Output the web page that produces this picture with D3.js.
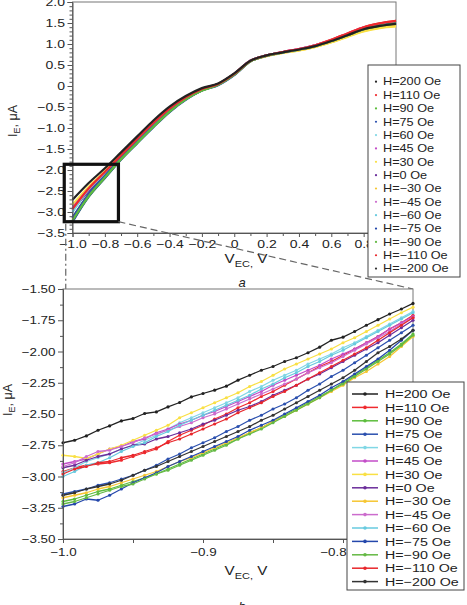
<!DOCTYPE html>
<html><head><meta charset="utf-8">
<script src="https://cdn.jsdelivr.net/npm/d3@7"></script>
<style>
html,body{margin:0;padding:0;background:#fff;}
svg{display:block;font-family:"Liberation Sans",Arial,Helvetica,sans-serif;}
</style></head><body>
<svg id="c" width="467" height="605"></svg>
<script>
// ---------- data ----------
const fields = ["200","110","90","75","60","45","30","0","−30","−45","−60","−75","−90","−110","−200"];
const colors = ["#222222","#ef2a2e","#5dbd3d","#2b50ae","#80d7e5","#c34cc8","#f9e044","#6b2d9a","#f6c632","#cc6ccd","#67cadf","#2447ab","#64b944","#e8262b","#333333"];

// panel a: V_EC grid (V)
const topX = [-1.0,-0.9,-0.8,-0.7,-0.6,-0.5,-0.4,-0.3,-0.2,-0.1,0.0,0.1,0.2,0.3,0.4,0.5,0.6,0.7,0.8,0.9,1.0];
const t200  = [-2.71,-2.31,-1.96,-1.58,-1.20,-0.82,-0.49,-0.24,-0.05,0.06,0.30,0.60,0.73,0.80,0.87,0.95,1.07,1.21,1.35,1.43,1.48];
const t110  = [-2.93,-2.44,-2.05,-1.65,-1.26,-0.88,-0.54,-0.27,-0.07,0.05,0.29,0.60,0.73,0.81,0.88,0.97,1.10,1.25,1.40,1.49,1.55];
const t90   = [-3.20,-2.62,-2.18,-1.74,-1.35,-0.97,-0.61,-0.32,-0.11,0.03,0.27,0.59,0.72,0.80,0.87,0.95,1.07,1.21,1.35,1.43,1.49];
const t75   = [-3.14,-2.58,-2.14,-1.71,-1.33,-0.95,-0.60,-0.31,-0.10,0.03,0.27,0.59,0.72,0.80,0.87,0.95,1.07,1.21,1.35,1.44,1.50];
const t60   = [-2.98,-2.46,-2.07,-1.67,-1.28,-0.90,-0.55,-0.28,-0.08,0.04,0.28,0.60,0.73,0.80,0.87,0.96,1.08,1.22,1.37,1.45,1.51];
const t45   = [-2.90,-2.45,-2.06,-1.66,-1.27,-0.89,-0.54,-0.27,-0.07,0.05,0.29,0.60,0.73,0.81,0.88,0.97,1.09,1.24,1.39,1.47,1.53];
const t30   = [-2.83,-2.40,-2.03,-1.63,-1.25,-0.87,-0.53,-0.26,-0.07,0.05,0.29,0.59,0.72,0.79,0.85,0.93,1.04,1.17,1.30,1.38,1.42];
const t0    = [-2.93,-2.50,-2.08,-1.68,-1.29,-0.91,-0.56,-0.28,-0.08,0.04,0.28,0.60,0.73,0.80,0.87,0.96,1.08,1.22,1.36,1.44,1.50];
const tm30  = [-3.17,-2.60,-2.16,-1.73,-1.34,-0.96,-0.60,-0.31,-0.10,0.03,0.27,0.59,0.71,0.79,0.85,0.93,1.04,1.18,1.31,1.39,1.43];
const tm45  = [-2.92,-2.47,-2.06,-1.66,-1.27,-0.89,-0.55,-0.27,-0.07,0.05,0.29,0.60,0.73,0.81,0.88,0.97,1.09,1.24,1.39,1.47,1.53];
const tm60  = [-3.00,-2.48,-2.08,-1.67,-1.28,-0.90,-0.55,-0.28,-0.08,0.04,0.28,0.60,0.73,0.80,0.87,0.96,1.08,1.22,1.37,1.45,1.51];
const tm75  = [-3.24,-2.63,-2.19,-1.75,-1.36,-0.98,-0.62,-0.33,-0.11,0.02,0.26,0.59,0.72,0.80,0.87,0.95,1.07,1.21,1.35,1.44,1.50];
const tm90  = [-3.22,-2.64,-2.19,-1.75,-1.36,-0.97,-0.61,-0.32,-0.11,0.03,0.27,0.59,0.72,0.80,0.87,0.95,1.07,1.21,1.35,1.43,1.49];
const tm110 = [-2.96,-2.48,-2.08,-1.67,-1.28,-0.90,-0.55,-0.28,-0.08,0.04,0.29,0.60,0.73,0.81,0.88,0.97,1.10,1.25,1.40,1.49,1.55];
const tm200 = [-3.14,-2.58,-2.15,-1.72,-1.33,-0.95,-0.60,-0.31,-0.10,0.03,0.27,0.59,0.72,0.80,0.87,0.95,1.07,1.21,1.35,1.43,1.48];
const topSeries = [t200,t110,t90,t75,t60,t45,t30,t0,tm30,tm45,tm60,tm75,tm90,tm110,tm200];

// panel b: zoomed region
const botX = [-1.0000,-0.9917,-0.9833,-0.9750,-0.9667,-0.9583,-0.9500,-0.9417,-0.9333,-0.9250,-0.9167,-0.9083,-0.9000,-0.8917,-0.8833,-0.8750,-0.8667,-0.8583,-0.8500,-0.8417,-0.8333,-0.8250,-0.8167,-0.8083,-0.8000,-0.7917,-0.7833,-0.7750,-0.7667,-0.7583,-0.7500];
const b200  = [-2.73,-2.71,-2.675,-2.63,-2.595,-2.555,-2.536,-2.496,-2.483,-2.443,-2.408,-2.363,-2.336,-2.309,-2.277,-2.229,-2.19,-2.15,-2.12,-2.08,-2.05,-2.01,-1.965,-1.91,-1.885,-1.84,-1.79,-1.745,-1.70,-1.66,-1.615];
const b110  = [-2.96,-2.93,-2.91,-2.90,-2.89,-2.87,-2.84,-2.81,-2.78,-2.72,-2.67,-2.63,-2.59,-2.54,-2.50,-2.45,-2.41,-2.36,-2.32,-2.27,-2.22,-2.17,-2.12,-2.08,-2.03,-1.98,-1.93,-1.88,-1.82,-1.77,-1.71];
const b90   = [-3.20,-3.18,-3.15,-3.12,-3.10,-3.07,-3.04,-3.01,-2.98,-2.94,-2.90,-2.86,-2.82,-2.78,-2.74,-2.70,-2.65,-2.61,-2.56,-2.51,-2.46,-2.41,-2.36,-2.31,-2.25,-2.19,-2.13,-2.07,-2.01,-1.94,-1.86];
const b75   = [-3.14,-3.12,-3.10,-3.07,-3.05,-3.02,-2.99,-2.95,-2.91,-2.86,-2.82,-2.77,-2.73,-2.69,-2.64,-2.60,-2.55,-2.51,-2.46,-2.42,-2.37,-2.31,-2.26,-2.20,-2.15,-2.09,-2.03,-1.97,-1.91,-1.85,-1.79];
const b60   = [-2.97,-2.93,-2.88,-2.85,-2.82,-2.78,-2.75,-2.71,-2.67,-2.62,-2.57,-2.53,-2.49,-2.45,-2.41,-2.37,-2.32,-2.28,-2.23,-2.19,-2.15,-2.10,-2.06,-2.02,-1.97,-1.93,-1.88,-1.83,-1.78,-1.73,-1.68];
const b45   = [-2.90,-2.88,-2.86,-2.82,-2.78,-2.76,-2.72,-2.70,-2.65,-2.62,-2.58,-2.55,-2.51,-2.48,-2.44,-2.40,-2.36,-2.32,-2.27,-2.23,-2.19,-2.15,-2.11,-2.06,-2.02,-1.98,-1.93,-1.88,-1.82,-1.77,-1.72];
const b30   = [-2.83,-2.84,-2.855,-2.82,-2.78,-2.75,-2.71,-2.67,-2.63,-2.59,-2.53,-2.49,-2.45,-2.41,-2.37,-2.33,-2.28,-2.24,-2.19,-2.14,-2.10,-2.06,-2.02,-1.98,-1.93,-1.89,-1.84,-1.79,-1.74,-1.69,-1.645];
const b0    = [-2.93,-2.91,-2.87,-2.84,-2.82,-2.78,-2.75,-2.74,-2.70,-2.68,-2.65,-2.62,-2.58,-2.55,-2.51,-2.47,-2.44,-2.40,-2.35,-2.31,-2.27,-2.22,-2.18,-2.13,-2.08,-2.03,-1.98,-1.93,-1.87,-1.81,-1.75];
const bm30  = [-3.17,-3.15,-3.13,-3.10,-3.08,-3.05,-3.02,-2.99,-2.96,-2.92,-2.88,-2.85,-2.81,-2.77,-2.73,-2.69,-2.65,-2.61,-2.56,-2.52,-2.47,-2.42,-2.37,-2.32,-2.27,-2.21,-2.16,-2.10,-2.04,-1.96,-1.88];
const bm45  = [-2.92,-2.89,-2.84,-2.80,-2.79,-2.76,-2.73,-2.69,-2.66,-2.63,-2.60,-2.57,-2.53,-2.50,-2.46,-2.42,-2.38,-2.34,-2.30,-2.26,-2.22,-2.17,-2.13,-2.09,-2.04,-1.99,-1.94,-1.89,-1.84,-1.78,-1.73];
const bm60  = [-3.00,-2.96,-2.91,-2.89,-2.85,-2.80,-2.76,-2.73,-2.68,-2.64,-2.59,-2.55,-2.51,-2.47,-2.43,-2.39,-2.35,-2.30,-2.26,-2.21,-2.17,-2.12,-2.08,-2.03,-1.99,-1.94,-1.89,-1.84,-1.79,-1.74,-1.69];
const bm75  = [-3.24,-3.22,-3.18,-3.19,-3.15,-3.10,-3.05,-3.01,-2.97,-2.92,-2.88,-2.84,-2.80,-2.76,-2.72,-2.68,-2.63,-2.59,-2.55,-2.50,-2.45,-2.40,-2.35,-2.29,-2.24,-2.18,-2.12,-2.06,-1.99,-1.91,-1.83];
const bm90  = [-3.22,-3.20,-3.17,-3.14,-3.11,-3.08,-3.06,-3.02,-2.98,-2.95,-2.91,-2.87,-2.83,-2.79,-2.75,-2.70,-2.66,-2.62,-2.57,-2.52,-2.47,-2.42,-2.37,-2.31,-2.26,-2.20,-2.14,-2.08,-2.02,-1.95,-1.87];
const bm110 = [-2.98,-2.94,-2.92,-2.89,-2.88,-2.85,-2.83,-2.80,-2.77,-2.73,-2.70,-2.66,-2.62,-2.58,-2.54,-2.49,-2.45,-2.41,-2.36,-2.32,-2.27,-2.22,-2.17,-2.12,-2.07,-2.02,-1.97,-1.91,-1.85,-1.79,-1.73];
const bm200 = [-3.15,-3.13,-3.10,-3.08,-3.06,-3.03,-2.99,-2.95,-2.92,-2.88,-2.84,-2.80,-2.76,-2.72,-2.68,-2.64,-2.60,-2.55,-2.51,-2.46,-2.41,-2.36,-2.31,-2.26,-2.21,-2.15,-2.08,-2.01,-1.96,-1.90,-1.83];
const botSeries = [b200,b110,b90,b75,b60,b45,b30,b0,bm30,bm45,bm60,bm75,bm90,bm110,bm200];

// ticks
const topXTicks = [-1.0,-0.8,-0.6,-0.4,-0.2,0,0.2,0.4,0.6,0.8];
const topXMinor = [-0.9,-0.7,-0.5,-0.3,-0.1,0.1,0.3,0.5,0.7,0.9,1.0];
const topYTicks = [2.0,1.5,1.0,0.5,0,-0.5,-1.0,-1.5,-2.0,-2.5,-3.0,-3.5];
const topYMinor = [1.9,1.8,1.7,1.6,1.4,1.3,1.2,1.1,0.9,0.8,0.7,0.6,0.4,0.3,0.2,0.1,-0.1,-0.2,-0.3,-0.4,-0.6,-0.7,-0.8,-0.9,-1.1,-1.2,-1.3,-1.4,-1.6,-1.7,-1.8,-1.9,-2.1,-2.2,-2.3,-2.4,-2.6,-2.7,-2.8,-2.9,-3.1,-3.2,-3.3,-3.4];
const botXTicks = [-1.0,-0.95,-0.9,-0.85,-0.8,-0.75];
const botXLabels = ["−1.0","","−0.9","","−0.8",""];
const botYTicks = [-1.5,-1.75,-2.0,-2.25,-2.5,-2.75,-3.0,-3.25,-3.5];
const botYMinor = [-1.625,-1.875,-2.125,-2.375,-2.625,-2.875,-3.125,-3.375];
const zoomBox = {x0:-1.051, x1:-0.716, y0:-1.864, y1:-3.231};

// ---------- drawing ----------
const svg = d3.select("#c");
const SX = 1.22; // horizontal glyph stretch of the original figure
const fmt1 = d => Math.abs(d) < 1e-9 ? "0" : d3.format(".1f")(d);
const fmt2 = d => d3.format(".2f")(d);

function stretchText(g){
  g.selectAll("text").each(function(){
    const t = d3.select(this);
    const x = +t.attr("x") || 0;
    t.attr("x", x / SX).attr("transform", `scale(${SX},1)`);
  });
}
function styleAxis(g, fs){
  g.select(".domain").attr("stroke","#555");
  g.selectAll(".tick line").attr("stroke","#555");
  g.selectAll("text").attr("font-size", fs).attr("fill","#222");
  g.attr("font-family", null);
}

// ===== Panel a =====
const xT = d3.scaleLinear().domain([-1,1]).range([72.5,396]);
const yT = d3.scaleLinear().domain([-3.5,2]).range([233,2]);

const gA = svg.append("g");
gA.append("rect").attr("x",xT(-1)).attr("y",yT(2)).attr("width",xT(1)-xT(-1)).attr("height",yT(-3.5)-yT(2))
  .attr("fill","none").attr("stroke","#777").attr("stroke-width",1);

const lineT = d3.line().x((d,i)=>xT(topX[i])).y(d=>yT(d)).curve(d3.curveMonotoneX);
// draw in reverse legend order so H=200 ends on top
for (let k = topSeries.length-1; k >= 0; k--) {
  gA.append("path").attr("d", lineT(topSeries[k])).attr("fill","none")
    .attr("stroke", colors[k]).attr("stroke-width", 2.2).attr("stroke-linejoin","round");
}

// axes
const axTX = gA.append("g").attr("transform",`translate(0,${yT(-3.5)})`)
  .call(d3.axisBottom(xT).tickValues(topXTicks).tickFormat(fmt1).tickSize(4).tickPadding(3));
axTX.append("g").call(d3.axisBottom(xT).tickValues(topXMinor).tickFormat("").tickSize(3)).select(".domain").remove();
styleAxis(axTX, 11.5);
const axTY = gA.append("g").attr("transform",`translate(${xT(-1)},0)`)
  .call(d3.axisLeft(yT).tickValues(topYTicks).tickFormat(fmt1).tickSize(5).tickPadding(2.5));
axTY.append("g").call(d3.axisLeft(yT).tickValues(topYMinor).tickFormat("").tickSize(3)).select(".domain").remove();
styleAxis(axTY, 11.5);
stretchText(axTX); stretchText(axTY);

// zoom box
gA.append("rect").attr("x",xT(zoomBox.x0)).attr("y",yT(zoomBox.y0))
  .attr("width",xT(zoomBox.x1)-xT(zoomBox.x0)).attr("height",yT(zoomBox.y1)-yT(zoomBox.y0))
  .attr("fill","none").attr("stroke","#111").attr("stroke-width",3.2);

// ===== Panel b =====
const xB = d3.scaleLinear().domain([-1,-0.75]).range([63,413]);
const yB = d3.scaleLinear().domain([-3.5,-1.5]).range([539,289]);

svg.append("line").attr("x1",xT(zoomBox.x0)+1.5).attr("y1",yT(zoomBox.y1)+2)
  .attr("x2",xT(zoomBox.x0)+1.5).attr("y2",yB(-1.5))
  .attr("stroke","#666").attr("stroke-width",1.2).attr("stroke-dasharray","7,3,2,3");
svg.append("line").attr("x1",xT(zoomBox.x1)).attr("y1",yT(zoomBox.y1))
  .attr("x2",xB(-0.75)).attr("y2",yB(-1.5))
  .attr("stroke","#666").attr("stroke-width",1.2).attr("stroke-dasharray","7,4");

const gB = svg.append("g");
gB.append("rect").attr("x",xB(-1)).attr("y",yB(-1.5)).attr("width",xB(-0.75)-xB(-1)).attr("height",yB(-3.5)-yB(-1.5))
  .attr("fill","#fff").attr("stroke","#777").attr("stroke-width",1);

const lineB = d3.line().x((d,i)=>xB(botX[i])).y(d=>yB(d));
botSeries.forEach((s,k)=>{
  gB.append("path").attr("d", lineB(s)).attr("fill","none")
    .attr("stroke", colors[k]).attr("stroke-width", 1.3).attr("stroke-linejoin","round");
  gB.append("g").selectAll("circle").data(s).join("circle")
    .attr("cx",(d,i)=>xB(botX[i])).attr("cy",d=>yB(d)).attr("r",1.6).attr("fill",colors[k]);
});

const axBX = gB.append("g").attr("transform",`translate(0,${yB(-3.5)})`)
  .call(d3.axisBottom(xB).tickValues(botXTicks).tickFormat((d,i)=>botXLabels[i]).tickSize(4).tickPadding(5));
styleAxis(axBX, 11);
const axBY = gB.append("g").attr("transform",`translate(${xB(-1)},0)`)
  .call(d3.axisLeft(yB).tickValues(botYTicks).tickFormat(fmt2).tickSize(5).tickPadding(2.5));
axBY.append("g").call(d3.axisLeft(yB).tickValues(botYMinor).tickFormat("").tickSize(3)).select(".domain").remove();
styleAxis(axBY, 11);
stretchText(axBX); stretchText(axBY);
axBX.selectAll(".tick text").filter((d)=>Math.abs(d+0.8)<1e-9).attr("dx",-10/SX);

// ===== Titles =====
function yTitle(cx, cy){
  const t = svg.append("text").attr("transform",`translate(${cx},${cy}) rotate(-90)`)
    .attr("text-anchor","middle").attr("font-size",12.5).attr("fill","#222");
  t.append("tspan").text("I");
  t.append("tspan").attr("dy",3).attr("font-size",9).text("E");
  t.append("tspan").attr("dy",-3).text(", μA");
}
function xTitle(cx, cy){
  const t = svg.append("text").attr("transform",`translate(${cx},${cy}) scale(${SX},1)`)
    .attr("text-anchor","middle").attr("font-size",12.5).attr("fill","#222");
  t.append("tspan").text("V");
  t.append("tspan").attr("dy",3.5).attr("font-size",9).text("EC,");
  t.append("tspan").attr("dy",-3.5).text(" V");
}
yTitle(17, 121);
xTitle(246, 263);
svg.append("text").attr("x",242).attr("y",287).attr("text-anchor","middle").attr("font-size",13)
  .attr("font-style","italic").attr("fill","#222").text("a");
yTitle(12, 400);
xTitle(246, 575);
svg.append("text").attr("x",242).attr("y",611).attr("text-anchor","middle").attr("font-size",13)
  .attr("font-style","italic").attr("fill","#222").text("b");

// ===== Legends =====
const lgA = svg.append("g");
lgA.append("rect").attr("x",368).attr("y",65).attr("width",92).attr("height",212)
  .attr("fill","#fff").attr("stroke","#444").attr("stroke-width",1);
fields.forEach((f,i)=>{
  const cy = 81.7 + i*13.35;
  lgA.append("circle").attr("cx",376).attr("cy",cy).attr("r",1.1).attr("fill",colors[i]);
  lgA.append("text").attr("transform",`translate(383,${cy}) scale(${SX},1)`).attr("dy","0.36em")
    .attr("font-size",10.4).attr("fill","#222").text("H=" + f + " Oe");
});
const lgB = svg.append("g");
lgB.append("rect").attr("x",347).attr("y",382).attr("width",117).attr("height",208)
  .attr("fill","#fff").attr("stroke","#444").attr("stroke-width",1);
fields.forEach((f,i)=>{
  const cy = 394 + i*13.4;
  lgB.append("line").attr("x1",352).attr("x2",378).attr("y1",cy).attr("y2",cy)
    .attr("stroke",colors[i]).attr("stroke-width",1.5);
  lgB.append("circle").attr("cx",365).attr("cy",cy).attr("r",1.8).attr("fill",colors[i]);
  lgB.append("text").attr("transform",`translate(385,${cy}) scale(${SX},1)`).attr("dy","0.36em")
    .attr("font-size",11.7).attr("fill","#222").text("H=" + f + " Oe");
});
</script>
</body></html>
